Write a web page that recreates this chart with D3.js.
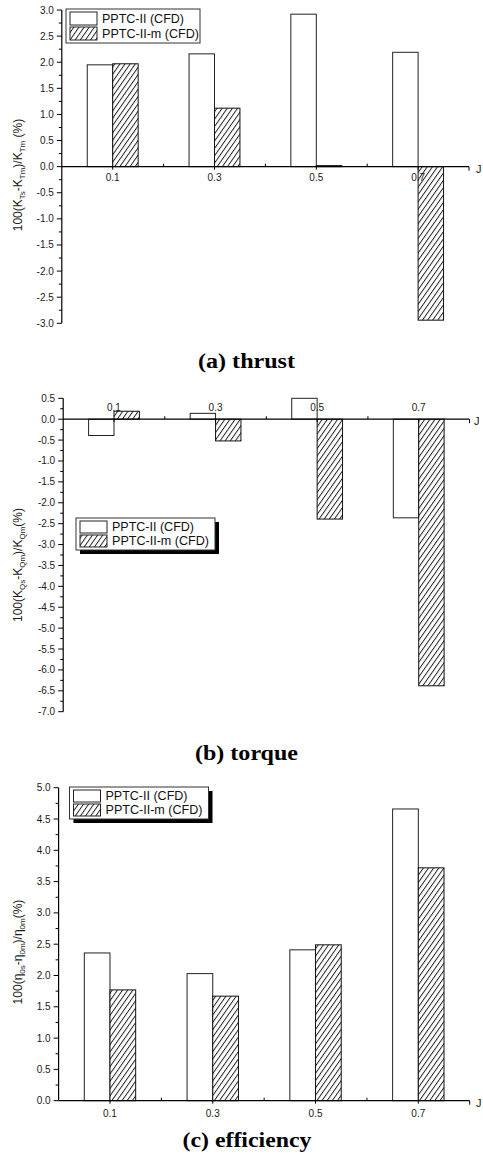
<!DOCTYPE html>
<html>
<head>
<meta charset="utf-8">
<script src="https://cdn.jsdelivr.net/npm/d3@7"></script>
<style>
  html, body { margin: 0; padding: 0; background: #fff; }
  svg { display: block; }
  .tick-label { font-family: "Liberation Sans", Arial, sans-serif; font-size: 10px; fill: #1a1a1a; }
  .axis-title { font-family: "Liberation Sans", Arial, sans-serif; font-size: 12px; fill: #1a1a1a; }
  .legend-text { font-family: "Liberation Sans", Arial, sans-serif; font-size: 12px; fill: #111; }
  .panel-title { font-family: "Liberation Serif", "Times New Roman", serif; font-size: 20px; font-weight: bold; fill: #000; }
</style>
</head>
<body>
<svg id="chart" width="483" height="1155"></svg>
<script>
// Advance coefficient values shared by the three panels
const J = [0.1, 0.3, 0.5, 0.7];
const seriesNames = ["PPTC-II (CFD)", "PPTC-II-m (CFD)"];

// (a) thrust difference, %
const thrustII  = [1.95, 2.16, 2.92, 2.19];
const thrustIIm = [1.97, 1.12, 0.02, -2.94];

// (b) torque difference, %
const torqueII  = [-0.39, 0.14, 0.50, -2.36];
const torqueIIm = [0.19, -0.52, -2.39, -6.38];

// (c) efficiency difference, %
const effII  = [2.36, 2.03, 2.41, 4.66];
const effIIm = [1.77, 1.67, 2.49, 3.72];

const xMajorTicks = [0.1, 0.3, 0.5, 0.7];
const xMinorTicks = [0.2, 0.4, 0.6];

const svg = d3.select("#chart");

// diagonal hatch used for the PPTC-II-m bars
const defs = svg.append("defs");
const pat = defs.append("pattern")
  .attr("id", "hatch")
  .attr("patternUnits", "userSpaceOnUse")
  .attr("width", 4.2).attr("height", 10)
  .attr("patternTransform", "rotate(35)");
pat.append("rect").attr("width", 4.2).attr("height", 10).attr("fill", "#fff");
pat.append("line").attr("x1", 0.5).attr("y1", 0).attr("x2", 0.5).attr("y2", 10)
  .attr("stroke", "#111").attr("stroke-width", 0.9);

const fmt = v => (Math.abs(v) < 1e-9 ? 0 : v).toFixed(1);

function drawPanel(cfg) {
  const g = svg.append("g");
  const x = d3.scaleLinear().domain([0, 0.8]).range(cfg.xRange);
  const y = d3.scaleLinear().domain(cfg.yDomain).range(cfg.yRange);
  const halfW = 0.05;

  // bars: open PPTC-II left of J, hatched PPTC-II-m right of J
  const rows = J.map((j, i) => ({ j, a: cfg.s1[i], b: cfg.s2[i] }));
  g.selectAll(".bar1").data(rows).enter().append("rect")
    .attr("x", d => x(d.j - halfW))
    .attr("width", d => x(d.j) - x(d.j - halfW))
    .attr("y", d => y(Math.max(0, d.a)))
    .attr("height", d => Math.abs(y(d.a) - y(0)))
    .attr("fill", "#fff").attr("stroke", "#222").attr("stroke-width", 1);
  g.selectAll(".bar2").data(rows).enter().append("rect")
    .attr("x", d => x(d.j))
    .attr("width", d => x(d.j + halfW) - x(d.j))
    .attr("y", d => y(Math.max(0, d.b)))
    .attr("height", d => Math.max(1, Math.abs(y(d.b) - y(0))))
    .attr("fill", "url(#hatch)").attr("stroke", "#111").attr("stroke-width", 1);

  // y axis with half-unit majors and quarter-unit minors
  const [y0, y1] = cfg.yDomain;
  const ax = x(0);
  g.append("line").attr("x1", ax).attr("x2", ax).attr("y1", y(y0)).attr("y2", y(y1))
    .attr("stroke", "#000").attr("stroke-width", 1.2);
  const majors = d3.range(Math.round(y0 * 2), Math.round(y1 * 2) + 1).map(k => k / 2);
  const minorVals = d3.range(Math.round(y0 * 4), Math.round(y1 * 4) + 1)
    .map(k => k / 4).filter(v => Math.abs(v * 2 - Math.round(v * 2)) > 1e-9);
  g.selectAll(".ymaj").data(majors).enter().append("line")
    .attr("x1", ax - 5).attr("x2", ax).attr("y1", d => y(d)).attr("y2", d => y(d))
    .attr("stroke", "#000").attr("stroke-width", 1);
  g.selectAll(".ymin").data(minorVals).enter().append("line")
    .attr("x1", ax - 3).attr("x2", ax).attr("y1", d => y(d)).attr("y2", d => y(d))
    .attr("stroke", "#000").attr("stroke-width", 1);
  g.selectAll(".ylab").data(majors).enter().append("text")
    .attr("class", "tick-label")
    .attr("x", ax - 8).attr("y", d => y(d) + 3.5)
    .attr("text-anchor", "end")
    .text(fmt);

  // x axis along zero
  const zy = y(0);
  g.append("line").attr("x1", ax).attr("x2", x(0.8)).attr("y1", zy).attr("y2", zy)
    .attr("stroke", "#000").attr("stroke-width", 1.2);
  g.selectAll(".xmaj").data(xMajorTicks).enter().append("line")
    .attr("x1", d => x(d)).attr("x2", d => x(d)).attr("y1", zy).attr("y2", zy + 3)
    .attr("stroke", "#000").attr("stroke-width", 1);
  g.selectAll(".xmin").data(xMinorTicks).enter().append("line")
    .attr("x1", d => x(d)).attr("x2", d => x(d)).attr("y1", zy - 3).attr("y2", zy)
    .attr("stroke", "#000").attr("stroke-width", 1);
  g.append("line").attr("x1", x(0.8)).attr("x2", x(0.8)).attr("y1", zy).attr("y2", zy + 4)
    .attr("stroke", "#000").attr("stroke-width", 1);
  g.selectAll(".xlab").data(xMajorTicks).enter().append("text")
    .attr("class", "tick-label")
    .attr("x", d => x(d)).attr("y", zy + cfg.xLabelDy)
    .attr("text-anchor", "middle")
    .text(fmt);
  g.append("text").attr("class", "tick-label").style("font-size", "11px")
    .attr("x", cfg.jX).attr("y", zy + 6).text("J");

  // rotated y-axis title with subscripts
  const t = g.append("text").attr("class", "axis-title")
    .attr("transform", `translate(22,${cfg.titleY}) rotate(-90)`)
    .attr("text-anchor", "middle");
  cfg.yTitle.forEach(part => {
    const sp = t.append("tspan").text(part.t);
    if (part.sub) sp.attr("dy", 3).style("font-size", "8px");
    else if (part.back) sp.attr("dy", -3);
  });

  // legend
  const L = cfg.legend;
  const lg = g.append("g");
  if (L.shadow) {
    lg.append("rect").attr("x", L.x + 4).attr("y", L.y + 4).attr("width", L.w).attr("height", L.h)
      .attr("fill", "#000");
  }
  lg.append("rect").attr("x", L.x).attr("y", L.y).attr("width", L.w).attr("height", L.h)
    .attr("fill", "#fff").attr("stroke", "#333").attr("stroke-width", 1);
  const rowH = (L.h - 4) / 2;
  seriesNames.forEach((name, i) => {
    const ry = L.y + 2 + i * rowH;
    lg.append("rect").attr("x", L.x + 4).attr("y", ry + 1).attr("width", 27).attr("height", rowH - 2)
      .attr("fill", i === 0 ? "#fff" : "url(#hatch)").attr("stroke", "#222").attr("stroke-width", 1);
    lg.append("text").attr("class", "legend-text")
      .attr("x", L.x + 36).attr("y", ry + rowH - 3)
      .attr("textLength", i === 0 ? 82 : 97).attr("lengthAdjust", "spacingAndGlyphs")
      .text(name);
  });

  // panel caption
  svg.append("text").attr("class", "panel-title")
    .attr("x", cfg.caption.x).attr("y", cfg.caption.y)
    .attr("text-anchor", "middle")
    .attr("textLength", cfg.caption.len).attr("lengthAdjust", "spacingAndGlyphs")
    .text(cfg.caption.text);
}

drawPanel({
  s1: thrustII, s2: thrustIIm,
  xRange: [61.8, 469], yDomain: [-3, 3], yRange: [323.3, 10],
  xLabelDy: 14, jX: 476,
  titleY: 175,
  yTitle: [
    { t: "100(K" }, { t: "Ts", sub: true }, { t: "-K", back: true },
    { t: "Tm", sub: true }, { t: ")/K", back: true }, { t: "Tm", sub: true },
    { t: " (%)", back: true }
  ],
  legend: { x: 66, y: 9, w: 134, h: 34, shadow: false },
  caption: { text: "(a) thrust", x: 246.5, y: 368, len: 97 }
});

drawPanel({
  s1: torqueII, s2: torqueIIm,
  xRange: [63.2, 469.5], yDomain: [-7, 0.5], yRange: [711.7, 398.3],
  xLabelDy: -8, jX: 474,
  titleY: 565,
  yTitle: [
    { t: "100(K" }, { t: "Qs", sub: true }, { t: "-K", back: true },
    { t: "Qm", sub: true }, { t: ")/K", back: true }, { t: "Qm", sub: true },
    { t: "(%)", back: true }
  ],
  legend: { x: 76, y: 518, w: 139, h: 32, shadow: true },
  caption: { text: "(b) torque", x: 246.5, y: 760, len: 103 }
});

drawPanel({
  s1: effII, s2: effIIm,
  xRange: [58.6, 469.7], yDomain: [0, 5], yRange: [1100.7, 787.7],
  xLabelDy: 16, jX: 476,
  titleY: 952,
  yTitle: [
    { t: "100(η" }, { t: "0s", sub: true }, { t: "-η", back: true },
    { t: "0m", sub: true }, { t: ")/η", back: true }, { t: "0m", sub: true },
    { t: "(%)", back: true }
  ],
  legend: { x: 69.5, y: 787, w: 139, h: 32, shadow: true },
  caption: { text: "(c) efficiency", x: 247, y: 1147, len: 129 }
});
</script>
</body>
</html>
